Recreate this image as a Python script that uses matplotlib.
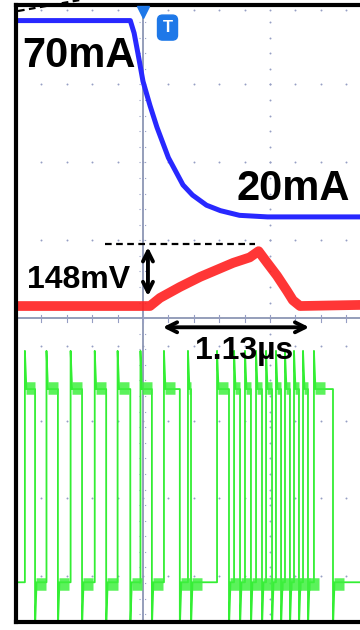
import matplotlib
matplotlib.use('Agg')
import matplotlib.pyplot as plt
from matplotlib.lines import Line2D
import numpy as np

plt.rcParams['font.family'] = ['Liberation Sans', 'DejaVu Sans']

# time axis in us (0 = trigger), vertical axis in scope divisions
# CH1 current trace (blue)
cur_t = [-1.0, -0.10, -0.07, -0.04, 0.0, 0.055, 0.11, 0.20, 0.315, 0.39, 0.50, 0.61, 0.76, 0.98, 1.71]
cur_v = [3.82, 3.82, 3.66, 3.40, 3.04, 2.73, 2.45, 2.06, 1.71, 1.58, 1.45, 1.38, 1.32, 1.30, 1.30]

# CH2 voltage trace (red)
volt_t = [-1.0, 0.055, 0.134, 0.29, 0.45, 0.58, 0.71, 0.84, 0.91, 0.96, 1.055, 1.134, 1.18, 1.236, 1.71]
volt_v = [0.156, 0.156, 0.26, 0.40, 0.53, 0.62, 0.71, 0.78, 0.86, 0.75, 0.545, 0.35, 0.23, 0.156, 0.17]

# CH3 switching signal (green): rising / falling edge times
rise_t = [-0.93, -0.76, -0.57, -0.38, -0.20, -0.02, 0.165, 0.354, 0.583, 0.717, 0.803, 0.890, 0.969, 1.047, 1.118, 1.189, 1.260, 1.346]
fall_t = [-0.85, -0.67, -0.48, -0.29, -0.10, 0.07, 0.29, 0.378, 0.677, 0.764, 0.850, 0.937, 1.016, 1.087, 1.157, 1.228, 1.299, 1.496]
g_high, g_top, g_low, g_bot = -0.91, -0.42, -3.39, -3.98

# build the green step trace from the edge times
gx, gy = [-1.0], [g_low]
for r, f in zip(rise_t, fall_t):
    gx += [r, r, r + 0.012, f, f, f + 0.012]
    gy += [g_low, g_top, g_high, g_high, g_bot, g_low]
gx.append(2.0)
gy.append(g_low)

fig = plt.figure(figsize=(3.6, 6.3), dpi=100)
ax = fig.add_axes([16/360, 8/630, 381/360, 617/630])
ax.set_xlim(-1.0, 2.0)
ax.set_ylim(-3.90, 4.02)
ax.set_xticks([])
ax.set_yticks([])
for s in ['left', 'top', 'bottom']:
    ax.spines[s].set_linewidth(3)
    ax.spines[s].set_color('black')
    ax.spines[s].set_zorder(10)
ax.spines['right'].set_visible(False)

dot_c = '#969ec4'
line_c = '#8c96b4'
minor_x = np.arange(-1.0, 2.01, 0.2)
minor_y = np.arange(-3.8, 4.0, 0.2)
rows = [3.95, 3.0, 2.0, 1.0, -0.36, -1.32, -2.31, -3.31]
for yr in rows:
    ax.plot(minor_x, [yr]*len(minor_x), ls='none', marker='o', ms=1.4, mew=0, color=dot_c, zorder=1)
ax.plot([1.0]*len(minor_y), minor_y, ls='none', marker='o', ms=1.4, mew=0, color=dot_c, zorder=1)

# centre cross lines with small ticks
ax.axvline(0, color=line_c, lw=1.3, zorder=1)
ax.axhline(0, color=line_c, lw=1.3, zorder=1)
for yy in minor_y:
    ax.plot([-0.035, 0.035], [yy, yy], color=dot_c, lw=0.8, ls=(0, (1, 1.5)), zorder=1)
for xx in minor_x:
    ax.plot([xx, xx], [-0.045, 0.045], color=dot_c, lw=0.8, zorder=1)

# traces
ax.plot(cur_t, cur_v, color='#2828ff', lw=3.6, zorder=3)
ax.plot(volt_t, volt_v, color='#ff2020', lw=7, alpha=0.9, zorder=3)
ax.plot(gx, gy, color='#33ee33', lw=1.3, zorder=2)
# ringing after each edge
for r, f in zip(rise_t, fall_t):
    ax.plot([r + 0.01, min(r + 0.09, f)], [g_high + 0.02, g_high + 0.02], color='#3ef03e', lw=9,
            alpha=0.85, solid_capstyle='butt', zorder=2)
    ax.plot([f + 0.01, f + 0.09], [g_low - 0.02, g_low - 0.02], color='#3ef03e', lw=9,
            alpha=0.85, solid_capstyle='butt', zorder=2)

# trigger markers
ax.plot([0], [3.93], marker='v', ms=8, color='#1e78e8', zorder=11, clip_on=False)
ax.text(0.193, 3.73, 'T', color='white', fontsize=12, fontweight='bold', ha='center', va='center',
        bbox=dict(boxstyle='round,pad=0.3', fc='#1e78e8', ec='#1e78e8'), zorder=11)

# annotations
ax.text(-0.953, 3.23, '70mA', fontsize=30, fontweight='bold', ha='left', va='baseline', zorder=12)
ax.text(0.74, 1.52, '20mA', fontsize=30, fontweight='bold', ha='left', va='baseline', zorder=12)
ax.text(-0.913, 0.39, '148mV', fontsize=23, fontweight='bold', ha='left', va='baseline', zorder=12)
ax.text(0.41, -0.53, '1.13\u00b5s', fontsize=23, fontweight='bold', ha='left', va='baseline', zorder=12)
ax.plot([-0.30, 0.88], [0.948, 0.948], color='black', lw=1.6, ls=(0, (3, 2)), zorder=12)
ax.annotate('', xy=(0.039, 0.948), xytext=(0.039, 0.247),
            arrowprops=dict(arrowstyle='<->', lw=2.8, color='black', mutation_scale=18), zorder=12)
ax.annotate('', xy=(0.134, -0.117), xytext=(1.331, -0.117),
            arrowprops=dict(arrowstyle='<->', lw=2.8, color='black', mutation_scale=18), zorder=12)

# zoom callout line above the frame
fig.add_artist(Line2D([18/360, 80/360], [1 - 11/630, 1.0], color='black', lw=1.6, ls=(0, (3, 2))))

fig.savefig('out.png', dpi=100)
